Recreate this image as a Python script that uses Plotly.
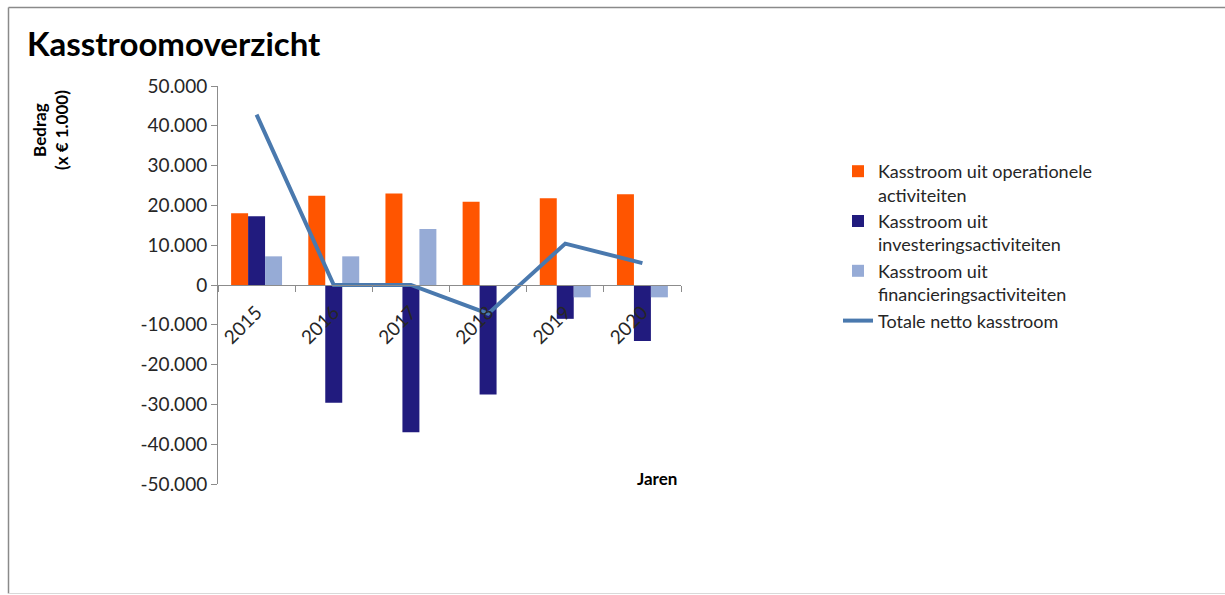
import plotly.graph_objects as go

# Cash-flow overview per year (amounts x EUR 1.000)
jaren = ["2015", "2016", "2017", "2018", "2019", "2020"]
operationeel = [18000, 22400, 23000, 20900, 21800, 22800]
investering = [17300, -29600, -37000, -27500, -8500, -14100]
financiering = [7200, 7200, 14100, 0, -3100, -3100]
netto = [42800, 0, 0, -7200, 10400, 5500]

y_ticks = [50000, 40000, 30000, 20000, 10000, 0, -10000, -20000, -30000, -40000, -50000]
y_labels = ["50.000", "40.000", "30.000", "20.000", "10.000", "0",
            "-10.000", "-20.000", "-30.000", "-40.000", "-50.000"]

W, H = 1225, 595
ML, MR, MT, MB = 218, 544, 86, 111
PW, PH = W - ML - MR, H - MT - MB


def px(x):
    return (x - ML) / PW


def py(y):
    return (H - MB - y) / PH


FONT = "Lato"
TXT = "#262626"

fig = go.Figure()
fig.add_trace(go.Bar(x=jaren, y=operationeel, name="Kasstroom uit operationele<br>activiteiten",
                     marker=dict(color="#FF5500", line=dict(width=0))))
fig.add_trace(go.Bar(x=jaren, y=investering, name="Kasstroom uit<br>investeringsactiviteiten",
                     marker=dict(color="#211B7E", line=dict(width=0))))
fig.add_trace(go.Bar(x=jaren, y=financiering, name="Kasstroom uit<br>financieringsactiviteiten",
                     marker=dict(color="#96ABD6", line=dict(width=0))))
fig.add_trace(go.Scatter(x=jaren, y=netto, name="Totale netto kasstroom", mode="lines",
                         line=dict(color="#4A79AE", width=4)))

fig.update_layout(
    width=W, height=H, autosize=False,
    margin=dict(l=ML, r=MR, t=MT, b=MB, pad=0),
    paper_bgcolor="white", plot_bgcolor="white",
    font=dict(family=FONT, size=18, color=TXT),
    barmode="group", bargap=0.34, bargroupgap=0,
    title=dict(text="<b>Kasstroomoverzicht</b>", x=27 / W, xref="container", xanchor="left",
               y=1 - 44 / H, yref="container", yanchor="middle",
               font=dict(family=FONT, size=33, color="black")),
    xaxis=dict(type="category", range=[-0.5, 5.5], anchor="free", position=0.5,
               showline=True, linecolor="#8c8c8c", linewidth=1,
               ticks="outside", tickson="boundaries", ticklen=6, tickcolor="#8c8c8c",
               tickangle=-45, ticklabelstandoff=8, showgrid=False, zeroline=False,
               tickfont=dict(family=FONT, size=19, color=TXT)),
    yaxis=dict(range=[-50000, 50000], tickvals=y_ticks, ticktext=y_labels,
               showline=True, linecolor="#8c8c8c", linewidth=1,
               ticks="outside", ticklen=6, tickcolor="#8c8c8c",
               showgrid=False, zeroline=False,
               tickfont=dict(family=FONT, size=19, color=TXT)),
    legend=dict(x=px(838), y=py(153), xanchor="left", yanchor="top",
                valign="top", traceorder="normal",
                font=dict(family=FONT, size=18, color=TXT),
                bgcolor="rgba(0,0,0,0)", borderwidth=0),
)

# Axis titles
fig.add_annotation(text="<b>Bedrag<br>(x € 1.000)</b>", textangle=-90,
                   xref="paper", yref="paper", x=px(50), y=py(130),
                   xanchor="center", yanchor="middle", showarrow=False,
                   font=dict(family=FONT, size=17, color="black"))
fig.add_annotation(text="<b>Jaren</b>", xref="paper", yref="paper",
                   x=px(679), y=py(478), xanchor="right", yanchor="middle",
                   showarrow=False, font=dict(family=FONT, size=17, color="black"))

# Chart frame
frame = dict(xref="paper", yref="paper", type="line", layer="below")
fig.add_shape(**frame, x0=px(8.5), x1=px(W + 5), y0=py(7.5), y1=py(7.5),
              line=dict(color="#8a8a8a", width=1.5))
fig.add_shape(**frame, x0=px(8.5), x1=px(8.5), y0=py(7.5), y1=py(593.5),
              line=dict(color="#8a8a8a", width=1.5))
fig.add_shape(**frame, x0=px(8.5), x1=px(W + 5), y0=py(593.5), y1=py(593.5),
              line=dict(color="#d9d9d9", width=1))

fig.write_html("out.html")
